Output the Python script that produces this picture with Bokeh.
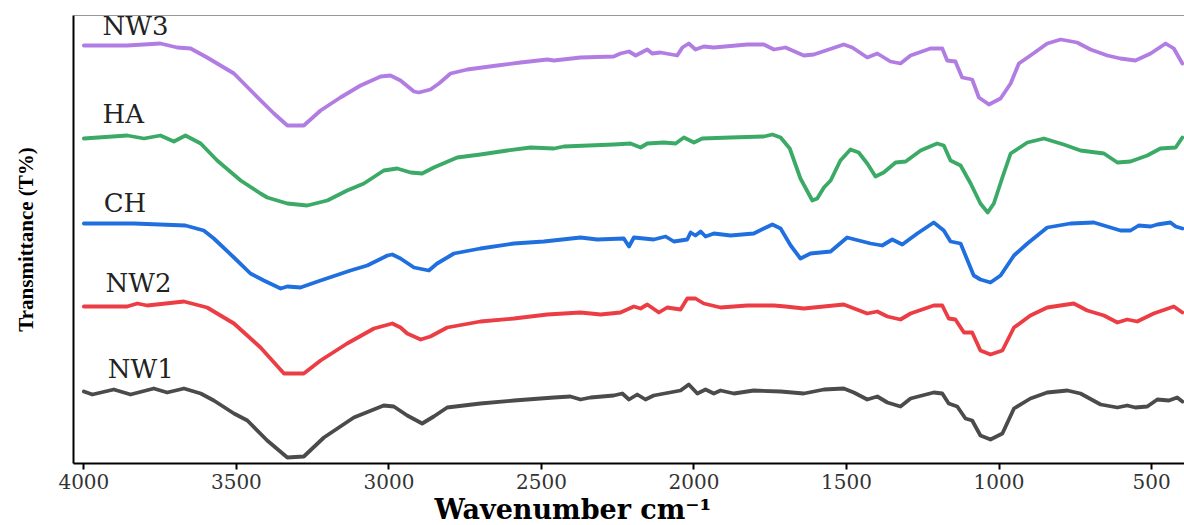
from bokeh.plotting import figure
from bokeh.models import Range1d, FixedTicker, Label, Span, Title
from bokeh.embed import file_html
from bokeh.resources import INLINE

# ---- data (wavenumber in cm-1, offset transmittance in arb. units) ----
nw3_wn = [4000, 3858, 3749, 3694, 3650, 3596, 3508, 3443, 3377, 3333, 3279, 3224, 3159, 3093, 3027, 2995,
          2962, 2918, 2902, 2864, 2836, 2798, 2743, 2645, 2568, 2481, 2459, 2372, 2263, 2241, 2213, 2191,
          2153, 2137, 2110, 2055, 2038, 2017, 1995, 1968, 1935, 1825, 1771, 1738, 1700, 1640, 1607, 1509,
          1481, 1432, 1399, 1356, 1323, 1290, 1225, 1186, 1170, 1143, 1121, 1088, 1066, 1033, 995, 962,
          935, 897, 842, 798, 744, 700, 645, 602, 553, 503, 454, 427, 399]
nw3_t = [418, 418, 420, 416, 415, 406, 390, 370, 350, 338, 338, 353, 366, 378, 387, 388,
         383, 372, 371, 374, 380, 390, 394, 398, 401, 404, 403, 406, 407, 410, 412, 408,
         414, 410, 411, 408, 416, 420, 414, 417, 416, 419, 419, 414, 416, 408, 409, 419,
         416, 406, 410, 402, 400, 408, 415, 415, 403, 402, 386, 384, 366, 359, 365, 380,
         400, 408, 420, 424, 421, 414, 408, 405, 403, 410, 420, 415, 400]

ha_wn = [4000, 3858, 3803, 3749, 3705, 3667, 3617, 3563, 3486, 3421, 3399, 3333, 3268, 3202, 3137, 3082,
         3017, 2973, 2929, 2891, 2853, 2776, 2700, 2612, 2536, 2459, 2427, 2263, 2208, 2175, 2153, 2099,
         2060, 2033, 2000, 1973, 1880, 1771, 1743, 1716, 1686, 1651, 1612, 1596, 1574, 1552, 1520, 1487,
         1460, 1432, 1405, 1378, 1339, 1306, 1257, 1203, 1181, 1159, 1126, 1093, 1061, 1037, 1017, 989,
         962, 907, 853, 788, 733, 656, 612, 569, 514, 471, 421, 399]
ha_t = [325, 328, 325, 328, 322, 328, 320, 303, 283, 270, 266, 260, 258, 263, 273, 280,
        293, 295, 291, 290, 296, 306, 309, 313, 316, 315, 317, 319, 320, 316, 320, 321,
        320, 326, 321, 325, 326, 327, 329, 326, 315, 285, 263, 265, 276, 283, 303, 314,
        311, 300, 287, 291, 301, 302, 313, 320, 318, 303, 298, 280, 260, 251, 260, 286,
        310, 321, 325, 319, 313, 310, 301, 302, 308, 315, 316, 326]

ch_wn = [4000, 3836, 3667, 3607, 3574, 3508, 3454, 3410, 3355, 3333, 3290, 3224, 3126, 3071, 3005, 2989,
         2962, 2918, 2869, 2842, 2787, 2700, 2590, 2492, 2372, 2317, 2230, 2213, 2197, 2132, 2093, 2066,
         2022, 2011, 1995, 1978, 1962, 1935, 1880, 1804, 1771, 1743, 1716, 1683, 1651, 1618, 1552, 1498,
         1421, 1383, 1350, 1317, 1268, 1214, 1181, 1159, 1126, 1083, 1061, 1028, 995, 951, 907, 842,
         766, 689, 602, 569, 542, 503, 481, 438, 421, 399]
ch_t = [240, 240, 238, 233, 225, 206, 190, 183, 175, 177, 176, 183, 193, 198, 208, 209,
        205, 196, 193, 200, 210, 215, 220, 222, 226, 224, 225, 217, 226, 224, 227, 222,
        224, 231, 228, 232, 227, 230, 228, 230, 235, 239, 235, 218, 205, 210, 212, 226,
        220, 218, 224, 219, 230, 241, 233, 222, 220, 188, 184, 181, 188, 208, 220, 236,
        240, 241, 233, 233, 238, 237, 239, 241, 237, 235]

nw2_wn = [4000, 3858, 3825, 3792, 3672, 3596, 3508, 3421, 3344, 3279, 3224, 3137, 3049, 2989, 2962, 2940,
          2896, 2864, 2809, 2700, 2590, 2481, 2372, 2306, 2241, 2197, 2175, 2153, 2115, 2088, 2044, 2022,
          1995, 1968, 1913, 1825, 1738, 1700, 1640, 1509, 1432, 1399, 1366, 1323, 1290, 1214, 1186, 1165,
          1143, 1115, 1088, 1061, 1028, 989, 951, 897, 842, 755, 711, 656, 612, 580, 547, 493, 427, 399]
nw2_t = [157, 157, 160, 158, 162, 156, 140, 116, 90, 90, 103, 120, 135, 140, 136, 130,
         124, 127, 136, 142, 145, 149, 151, 149, 151, 157, 155, 159, 151, 156, 154, 165,
         165, 160, 156, 158, 158, 157, 155, 159, 150, 152, 147, 144, 150, 158, 158, 145,
         144, 131, 131, 113, 109, 113, 136, 148, 156, 160, 153, 148, 141, 144, 142, 150, 157, 151]

nw1_wn = [4000, 3972, 3902, 3847, 3771, 3727, 3672, 3617, 3574, 3508, 3464, 3399, 3333, 3279, 3213, 3115,
          3017, 2984, 2940, 2891, 2853, 2809, 2700, 2590, 2459, 2405, 2372, 2339, 2263, 2235, 2213, 2186,
          2159, 2132, 2044, 2017, 1989, 1962, 1935, 1913, 1869, 1804, 1716, 1640, 1574, 1509, 1476, 1432,
          1399, 1366, 1323, 1290, 1214, 1186, 1165, 1137, 1110, 1088, 1061, 1028, 989, 951, 897, 842,
          776, 733, 667, 612, 580, 553, 514, 481, 443, 416, 399]
nw1_t = [72, 69, 74, 69, 75, 71, 75, 70, 63, 50, 43, 23, 6, 7, 26, 46,
         58, 57, 48, 40, 47, 56, 60, 63, 66, 67, 64, 66, 68, 70, 64, 69,
         64, 68, 73, 79, 70, 74, 70, 73, 70, 73, 72, 70, 74, 75, 71, 64,
         67, 61, 57, 65, 71, 70, 60, 57, 45, 43, 28, 24, 30, 55, 65, 71,
         73, 70, 59, 56, 58, 56, 57, 64, 63, 66, 62]

series_names = ["NW3", "HA", "CH", "NW2", "NW1"]
series_wn = [nw3_wn, ha_wn, ch_wn, nw2_wn, nw1_wn]
series_t = [nw3_t, ha_t, ch_t, nw2_t, nw1_t]
series_colors = ["#b27de3", "#3aaa66", "#1f6fdf", "#ec3d44", "#4b4b4b"]
label_pos = [(3939, 438), (3939, 350), (3935, 261), (3929, 181), (3922, 95)]

x_ticks = [4000, 3500, 3000, 2500, 2000, 1500, 1000, 500]
x_title = "Wavenumber cm\u207b\u00b9"

p = figure(width=1184, height=525, output_backend="svg", toolbar_location=None,
           x_range=Range1d(4034, 392), y_range=Range1d(0, 448),
           min_border_left=73, min_border_right=0, min_border_top=15, min_border_bottom=62)
p.grid.visible = False
p.outline_line_color = None
p.background_fill_color = "white"
p.border_fill_color = "white"

for wn, t, c in zip(series_wn, series_t, series_colors):
    p.line(wn, t, line_color=c, line_width=3.8, line_join="round", line_cap="round")

for name, (lx, ly) in zip(series_names, label_pos):
    p.add_layout(Label(x=lx, y=ly, text=name, text_font="DejaVu Serif", text_font_size="26px",
                       text_color="#222222", text_baseline="alphabetic", text_align="left"))

# x axis
xa = p.xaxis[0]
xa.ticker = FixedTicker(ticks=x_ticks)
xa.axis_line_width = 2
xa.axis_line_color = "black"
xa.major_tick_line_width = 2
xa.major_tick_line_color = "black"
xa.major_tick_out = 6
xa.major_tick_in = 0
xa.minor_tick_line_color = None
xa.major_label_text_font = "DejaVu Serif"
xa.major_label_text_font_size = "20px"
xa.major_label_text_color = "#333333"
xa.major_label_standoff = 4

# y axis
ya = p.yaxis[0]
ya.ticker = FixedTicker(ticks=[])
ya.axis_line_width = 2
ya.axis_line_color = "black"
ya.major_tick_line_color = None
ya.minor_tick_line_color = None
ya.axis_label = "Transmittance (T%)"
ya.axis_label_text_font = "Liberation Serif"
ya.axis_label_text_font_size = "21px"
ya.axis_label_text_font_style = "bold"
ya.axis_label_text_color = "black"
ya.axis_label_standoff = 36

# top border line
p.add_layout(Span(location=448, dimension="width", line_color="#333333", line_width=1))

# x axis title (below the axis, shifted left like the reference)
p.add_layout(Title(text=x_title, align="left", offset=361, standoff=0,
                   text_font="DejaVu Serif", text_font_size="27px", text_font_style="bold",
                   text_color="black"), "below")

open("out.html", "w").write(file_html(p, INLINE))
